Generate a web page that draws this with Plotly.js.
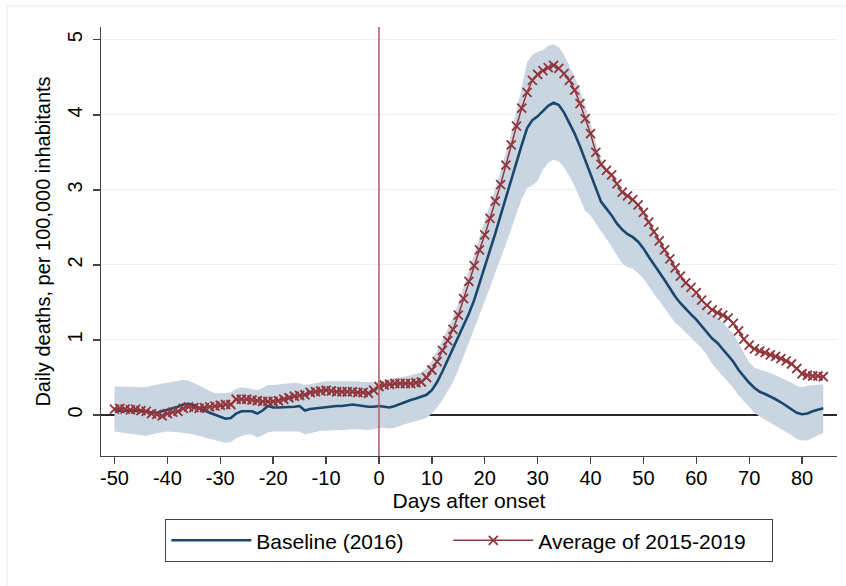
<!DOCTYPE html>
<html>
<head>
<meta charset="utf-8">
<script src="https://cdn.plot.ly/plotly-3.0.1.min.js"></script>
<style>html,body{margin:0;padding:0;background:#fff;}#chart{width:846px;height:586px;}</style>
</head>
<body>
<div id="chart"></div>
<script>
// Days after onset
const days = [];
for (let d = -50; d <= 84; d++) days.push(d);

// Average of 2015-2019 (daily deaths per 100,000)
const average = [
 0.08,0.09,0.08,0.07,0.08,0.06,0.05,0.02,0.01,-0.01,
 0.02,0.04,0.05,0.09,0.11,0.10,0.09,0.10,0.11,0.12,
 0.13,0.14,0.14,0.21,0.21,0.21,0.20,0.19,0.18,0.18,
 0.18,0.19,0.21,0.23,0.25,0.26,0.27,0.30,0.31,0.32,
 0.33,0.32,0.31,0.31,0.31,0.31,0.30,0.30,0.29,0.33,
 0.38,0.40,0.41,0.42,0.42,0.42,0.42,0.43,0.44,0.50,
 0.60,0.71,0.86,0.99,1.14,1.33,1.55,1.78,1.99,2.20,
 2.40,2.62,2.85,3.07,3.33,3.60,3.85,4.09,4.30,4.46,
 4.54,4.59,4.63,4.66,4.62,4.55,4.46,4.33,4.15,3.95,
 3.75,3.50,3.34,3.26,3.20,3.08,2.97,2.92,2.87,2.80,
 2.70,2.57,2.44,2.32,2.20,2.08,1.96,1.85,1.76,1.70,
 1.63,1.53,1.46,1.40,1.36,1.33,1.29,1.22,1.12,1.01,
 0.93,0.88,0.85,0.83,0.80,0.78,0.75,0.72,0.68,0.62,
 0.55,0.53,0.52,0.52,0.51
];

// Baseline (2016)
const baseline = [
 0.06,0.06,0.06,0.05,0.05,0.05,0.04,0.03,0.03,0.05,
 0.07,0.08,0.11,0.14,0.15,0.13,0.09,0.06,0.03,0.00,
 -0.02,-0.05,-0.04,0.02,0.05,0.05,0.05,0.02,0.06,0.12,
 0.10,0.10,0.10,0.10,0.11,0.12,0.06,0.08,0.09,0.10,
 0.11,0.12,0.12,0.12,0.13,0.14,0.13,0.12,0.11,0.11,
 0.12,0.11,0.10,0.12,0.15,0.17,0.20,0.22,0.24,0.27,
 0.33,0.44,0.58,0.73,0.88,1.03,1.18,1.35,1.53,1.75,
 1.95,2.18,2.42,2.66,2.90,3.12,3.38,3.60,3.82,3.93,
 3.98,4.05,4.12,4.16,4.13,4.03,3.90,3.75,3.58,3.40,
 3.20,3.02,2.84,2.75,2.66,2.55,2.47,2.41,2.37,2.31,
 2.22,2.11,2.01,1.91,1.80,1.69,1.58,1.49,1.41,1.34,
 1.27,1.19,1.10,1.02,0.96,0.88,0.80,0.71,0.60,0.51,
 0.43,0.36,0.31,0.28,0.25,0.21,0.17,0.12,0.07,0.03,
 0.01,0.02,0.05,0.07,0.09
];

// Confidence band of the baseline
const bandUpper = [
 0.38,0.38,0.37,0.37,0.38,0.37,0.37,0.39,0.41,0.42,
 0.43,0.44,0.46,0.47,0.46,0.43,0.40,0.36,0.32,0.29,
 0.29,0.29,0.30,0.35,0.37,0.36,0.35,0.33,0.36,0.40,
 0.40,0.41,0.42,0.43,0.43,0.42,0.40,0.41,0.43,0.44,
 0.45,0.45,0.45,0.46,0.46,0.46,0.45,0.44,0.44,0.43,
 0.44,0.46,0.48,0.49,0.50,0.51,0.53,0.55,0.57,0.62,
 0.72,0.85,1.00,1.15,1.30,1.49,1.70,1.93,2.15,2.37,
 2.58,2.80,3.02,3.25,3.50,3.75,4.05,4.40,4.70,4.80,
 4.84,4.86,4.92,4.94,4.90,4.80,4.66,4.50,4.33,4.12,
 3.90,3.62,3.40,3.29,3.21,3.09,2.98,2.92,2.87,2.80,
 2.69,2.56,2.43,2.30,2.18,2.06,1.94,1.83,1.74,1.67,
 1.59,1.50,1.42,1.35,1.30,1.24,1.16,1.08,0.96,0.82,
 0.70,0.63,0.61,0.58,0.56,0.53,0.50,0.47,0.43,0.39,
 0.37,0.39,0.40,0.41,0.41
];
const bandLower = [
 -0.22,-0.23,-0.24,-0.25,-0.26,-0.27,-0.28,-0.26,-0.24,-0.23,
 -0.22,-0.22,-0.23,-0.24,-0.25,-0.26,-0.28,-0.30,-0.32,-0.34,
 -0.35,-0.37,-0.36,-0.31,-0.28,-0.26,-0.26,-0.30,-0.27,-0.23,
 -0.22,-0.22,-0.22,-0.22,-0.22,-0.22,-0.26,-0.24,-0.22,-0.21,
 -0.21,-0.20,-0.20,-0.20,-0.19,-0.19,-0.19,-0.20,-0.20,-0.19,
 -0.17,-0.17,-0.18,-0.17,-0.14,-0.12,-0.10,-0.08,-0.06,-0.04,
 0.02,0.10,0.20,0.32,0.44,0.60,0.78,0.96,1.14,1.32,
 1.50,1.70,1.90,2.08,2.28,2.48,2.68,2.88,3.02,3.06,
 3.12,3.27,3.36,3.40,3.38,3.30,3.18,3.05,2.88,2.72,
 2.66,2.55,2.45,2.35,2.24,2.12,2.02,1.97,1.95,1.89,
 1.82,1.72,1.61,1.52,1.42,1.33,1.23,1.17,1.10,1.03,
 0.96,0.89,0.80,0.68,0.60,0.52,0.45,0.36,0.26,0.18,
 0.10,0.03,-0.02,-0.06,-0.10,-0.14,-0.19,-0.23,-0.27,-0.32,
 -0.34,-0.34,-0.31,-0.27,-0.24
];

const xTicks = [-50,-40,-30,-20,-10,0,10,20,30,40,50,60,70,80];
const yTicks = [0,1,2,3,4,5];

const FONT = 'Liberation Sans, Arial, Helvetica, sans-serif';
const NAVY = '#1a476f';
const MAROON = '#90353b';

const traces = [
  {x: days, y: bandLower, type: 'scatter', mode: 'lines', line: {width: 0, color: 'rgba(0,0,0,0)'},
   showlegend: false, hoverinfo: 'skip'},
  {x: days, y: bandUpper, type: 'scatter', mode: 'lines', fill: 'tonexty', fillcolor: '#c9d5e0',
   line: {width: 0, color: 'rgba(0,0,0,0)'}, showlegend: false, hoverinfo: 'skip'},
  {x: days, y: baseline, type: 'scatter', mode: 'lines', name: 'Baseline (2016)',
   line: {color: NAVY, width: 2.6}, legendwidth: 187},
  {x: days, y: average, type: 'scatter', mode: 'lines+markers', name: 'Average of 2015-2019',
   line: {color: MAROON, width: 1.5}, legendwidth: 228,
   marker: {symbol: 'x-thin', size: 9, color: MAROON, line: {color: MAROON, width: 1.8}}}
];

const layout = {
  width: 846, height: 586,
  margin: {l: 101, r: 9, t: 27, b: 130},
  paper_bgcolor: '#ffffff', plot_bgcolor: '#ffffff',
  font: {family: FONT, color: '#000', size: 20},
  showlegend: true,
  xaxis: {
    range: [-52.55, 86.6], tickvals: xTicks, ticktext: xTicks.map(String),
    showgrid: false, zeroline: false,
    showline: true, linecolor: '#444', linewidth: 1.4,
    ticks: 'outside', ticklen: 7, tickwidth: 1.4, tickcolor: '#444',
    ticklabelstandoff: -3,
    tickfont: {size: 20, family: FONT, color: '#000'},
    title: {text: 'Days after onset', font: {size: 21, family: FONT, color: '#000'}, standoff: 2}
  },
  yaxis: {
    range: [-0.546, 5.17], tickvals: yTicks, ticktext: yTicks.map(String),
    showgrid: true, gridcolor: '#e9f1f3', gridwidth: 1,
    zeroline: true, zerolinecolor: '#2a2a2a', zerolinewidth: 1.5,
    showline: true, linecolor: '#444', linewidth: 1.4,
    ticks: 'outside', ticklen: 7, tickwidth: 1.4, tickcolor: '#444',
    tickangle: -90, ticklabelstandoff: 3,
    tickfont: {size: 20, family: FONT, color: '#000'},
    title: {text: 'Daily deaths, per 100,000 inhabitants', font: {size: 20, family: FONT, color: '#000'}, standoff: 7}
  },
  legend: {
    orientation: 'h', x: 0.5, xanchor: 'center', y: -0.1465, yanchor: 'top',
    bordercolor: '#444', borderwidth: 1.3, bgcolor: '#fff',
    font: {size: 21, family: FONT, color: '#000'},
    itemwidth: 80,
    traceorder: 'normal'
  },
  shapes: [
    {type: 'line', xref: 'x', yref: 'paper', x0: 0, x1: 0, y0: 0, y1: 1,
     line: {color: '#b5606a', width: 1.6}, layer: 'above'},
    {type: 'rect', xref: 'paper', yref: 'paper', x0: -0.1277, x1: 1.03, y0: -0.33, y1: 1.049,
     line: {color: '#e6edf0', width: 1}, fillcolor: 'rgba(0,0,0,0)', layer: 'below'}
  ]
};

Plotly.newPlot('chart', traces, layout, {displayModeBar: false, staticPlot: true});
</script>
</body>
</html>
